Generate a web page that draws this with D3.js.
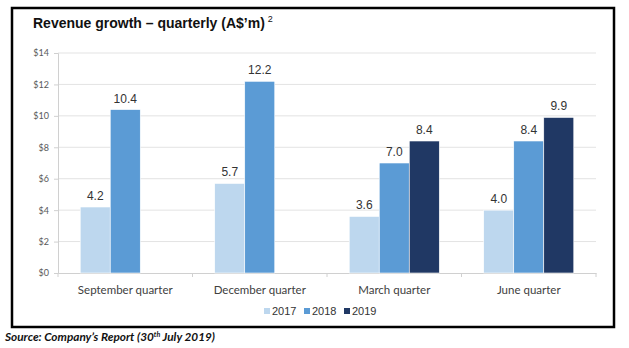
<!DOCTYPE html>
<html>
<head>
<meta charset="utf-8">
<script src="https://cdn.jsdelivr.net/npm/d3@7"></script>
<style>
  html, body { margin: 0; padding: 0; background: #fff; }
  svg { display: block; }
</style>
</head>
<body>
<svg id="chart" width="629" height="348"></svg>
<script>
// Quarterly revenue, A$ millions
const quarters = ["September quarter", "December quarter", "March quarter", "June quarter"];
const years = ["2017", "2018", "2019"];
const rev2017 = [4.2, 5.7, 3.6, 4.0];
const rev2018 = [10.4, 12.2, 7.0, 8.4];
const rev2019 = [null, null, 8.4, 9.9];
const yTicks = [0, 2, 4, 6, 8, 10, 12, 14];
const colors = ["#bdd7ee", "#5b9bd5", "#203864"];

const seriesByYear = { "2017": rev2017, "2018": rev2018, "2019": rev2019 };

const svg = d3.select("#chart");

// Outer frame
svg.append("rect")
  .attr("x", 12).attr("y", 8)
  .attr("width", 602).attr("height", 319)
  .attr("fill", "#fff")
  .attr("stroke", "#000")
  .attr("stroke-width", 2.5);

// Title
const title = svg.append("text")
  .attr("x", 33).attr("y", 28)
  .attr("font-family", "Liberation Sans, Arial, sans-serif")
  .attr("font-size", 14)
  .attr("font-weight", "bold")
  .attr("fill", "#111");
title.append("tspan").text("Revenue growth \u2013 quarterly (A$\u2019m)");
title.append("tspan")
  .attr("dy", -6).attr("dx", 3)
  .attr("font-size", 9).attr("font-weight", "normal")
  .text("2");

const plot = { left: 58, right: 596, top: 53, bottom: 273 };

const x0 = d3.scaleBand()
  .domain(quarters)
  .range([plot.left, plot.right])
  .paddingInner(0).paddingOuter(0);

const x1 = d3.scaleBand()
  .domain(years)
  .range([0, x0.bandwidth()])
  .paddingInner(0)
  .paddingOuter(0.74);

const y = d3.scaleLinear()
  .domain([0, 14])
  .range([plot.bottom, plot.top]);

// Horizontal gridlines
svg.append("g")
  .selectAll("line")
  .data(yTicks.filter(d => d > 0))
  .join("line")
  .attr("x1", plot.left).attr("x2", plot.right)
  .attr("y1", d => y(d)).attr("y2", d => y(d))
  .attr("stroke", "#e3e3e3")
  .attr("stroke-width", 1);

// Y axis
const yAxis = svg.append("g")
  .attr("transform", `translate(${plot.left},0)`)
  .call(d3.axisLeft(y).tickValues(yTicks).tickSize(4).tickPadding(5)
    .tickFormat(d => "$" + d));
yAxis.select(".domain").attr("stroke", "#d0d0d0");
yAxis.selectAll(".tick line").attr("stroke", "#d0d0d0");
yAxis.selectAll("text")
  .attr("font-family", "Lato, Liberation Sans, sans-serif")
  .attr("font-size", 9)
  .attr("fill", "#595959");

// X axis
const xAxis = svg.append("g")
  .attr("transform", `translate(0,${plot.bottom})`)
  .call(d3.axisBottom(x0).tickSize(0).tickPadding(13));
xAxis.select(".domain").attr("stroke", "#d0d0d0");
xAxis.selectAll("text")
  .attr("font-family", "Lato, Liberation Sans, sans-serif")
  .attr("font-size", 11.5)
  .attr("fill", "#404040");

// Category separators on the baseline
svg.append("g")
  .selectAll("line")
  .data(quarters.concat(["end"]))
  .join("line")
  .attr("x1", (d, i) => i < quarters.length ? x0(d) : plot.right)
  .attr("x2", (d, i) => i < quarters.length ? x0(d) : plot.right)
  .attr("y1", plot.bottom).attr("y2", plot.bottom + 4)
  .attr("stroke", "#d0d0d0");

// Bars
const barData = [];
quarters.forEach((q, qi) => {
  years.forEach((yr, yi) => {
    const v = seriesByYear[yr][qi];
    if (v != null) barData.push({ q, yr, yi, v });
  });
});

const bars = svg.append("g");
bars.selectAll("rect")
  .data(barData)
  .join("rect")
  .attr("x", d => x0(d.q) + x1(d.yr))
  .attr("y", d => y(d.v))
  .attr("width", x1.bandwidth())
  .attr("height", d => y(0) - y(d.v))
  .attr("fill", d => colors[d.yi])
  .attr("stroke", "#fff")
  .attr("stroke-width", 0.6);

// Value labels
bars.selectAll("text")
  .data(barData)
  .join("text")
  .attr("x", d => x0(d.q) + x1(d.yr) + x1.bandwidth() / 2)
  .attr("y", d => y(d.v) - 7)
  .attr("text-anchor", "middle")
  .attr("font-family", "Liberation Sans, Arial, sans-serif")
  .attr("font-size", 12)
  .attr("fill", "#333")
  .text(d => d.v.toFixed(1));

// Legend
const legend = svg.append("g").attr("transform", "translate(264,312)");
const legendX = [0, 40, 80];
years.forEach((yr, i) => {
  const g = legend.append("g").attr("transform", `translate(${legendX[i]},0)`);
  g.append("rect")
    .attr("x", 0).attr("y", -4)
    .attr("width", 6).attr("height", 6)
    .attr("fill", colors[i]);
  g.append("text")
    .attr("x", 8).attr("y", 2.5)
    .attr("font-family", "Liberation Sans, Arial, sans-serif")
    .attr("font-size", 11)
    .attr("fill", "#333")
    .text(yr);
});

// Source note
const src = svg.append("text")
  .attr("x", 5).attr("y", 341)
  .attr("font-family", "Lato, Liberation Sans, sans-serif")
  .attr("font-size", 11.8)
  .attr("font-weight", "bold")
  .attr("font-style", "italic")
  .attr("fill", "#111");
src.append("tspan").text("Source: Company\u2019s Report (30");
src.append("tspan").attr("dy", -4).attr("font-size", 7).text("th");
src.append("tspan").attr("dy", 4).text(" July 2019)");
</script>
</body>
</html>
